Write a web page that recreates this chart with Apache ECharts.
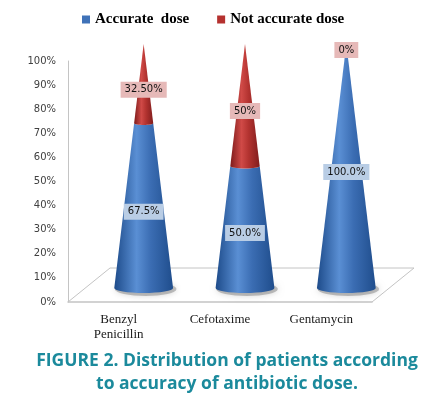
<!DOCTYPE html>
<html>
<head>
<meta charset="utf-8">
<script src="https://cdn.jsdelivr.net/npm/echarts@6/dist/echarts.min.js"></script>
<style>
html, body { margin: 0; padding: 0; background: #fff; }
#chart { width: 435px; height: 400px; }
</style>
</head>
<body>
<div id="chart"></div>
<script>
var categories = ['Benzyl\nPenicillin', 'Cefotaxime', 'Gentamycin'];
var accurate = [67.5, 50, 100];
var notAccurate = [32.5, 50, 0];
var accurateLabels = ['67.5%', '50.0%', '100.0%'];
var notAccurateLabels = ['32.50%', '50%', '0%'];

var chart = echarts.init(document.getElementById('chart'));

var CONE = 0.29;   // base half width, share of the band
var BASE_RY = 5;   // ellipse height of the base

function edge(cx, y, hw, ry, fromLeft) {
    var pts = [];
    for (var t = 0; t <= 16; t++) {
        var a = fromLeft ? Math.PI - Math.PI * t / 16 : Math.PI * t / 16;
        pts.push([cx + hw * Math.cos(a), y + ry * Math.sin(a)]);
    }
    return pts;
}

function coneItem(colors, labels, labelBg) {
    return function (params, api) {
        var cat = api.value(0), from = api.value(1), to = api.value(2);
        var half = api.size([1, 0])[0] * CONE;
        var p0 = api.coord([cat, from]);
        var p1 = api.coord([cat, to]);
        var cx = p0[0];
        var hw0 = half * (1 - from / 100), hw1 = half * (1 - to / 100);
        var children = [];
        if (from === 0) {
            // soft shadow under the base
            children.push({
                type: 'polygon',
                shape: { points: edge(cx + 2, p0[1] + 1, half * 1.05, 7, true).concat(edge(cx + 2, p0[1] + 1, half * 1.05, -7, false)) },
                style: { fill: 'rgba(90,90,90,0.35)', shadowBlur: 6, shadowColor: 'rgba(0,0,0,0.45)' },
                silent: true
            });
        }
        if (to > from) {
            var pts = edge(cx, p0[1], hw0, BASE_RY * hw0 / half, true)
                .concat(edge(cx, p1[1], hw1, BASE_RY * hw1 / half, false));
            children.push({
                type: 'polygon',
                shape: { points: pts },
                style: {
                    fill: new echarts.graphic.LinearGradient(0, 0, 1, 0, [
                        { offset: 0, color: colors[0] },
                        { offset: 0.38, color: colors[1] },
                        { offset: 0.62, color: colors[2] },
                        { offset: 1, color: colors[3] }
                    ])
                }
            });
        }
        var mid = api.coord([cat, (from + to) / 2]);
        children.push({
            type: 'text',
            z2: 100,
            style: {
                x: mid[0], y: mid[1] + 6,
                text: labels[params.dataIndex],
                fill: '#111',
                font: '10px "DejaVu Sans"',
                align: 'center', verticalAlign: 'middle',
                backgroundColor: labelBg,
                padding: [3, 4]
            }
        });
        return { type: 'group', children: children };
    };
}

var accData = accurate.map(function (v, i) { return [i, 0, v]; });
var notData = notAccurate.map(function (v, i) { return [i, accurate[i], accurate[i] + v]; });

chart.setOption({
    backgroundColor: '#fff',
    animation: false,
    graphic: [{
        type: 'text',
        x: 227,
        y: 350,
        style: {
            text: 'FIGURE 2. Distribution of patients according\nto accuracy of antibiotic dose.',
            font: 'bold 17.5px "Open Sans"',
            lineHeight: 23,
            fill: '#1b8a9c',
            align: 'center',
            verticalAlign: 'top'
        }
    }],
    legend: {
        data: ['Accurate  dose', 'Not accurate dose'],
        left: 77, top: 7,
        icon: 'rect', itemWidth: 8, itemHeight: 8, itemGap: 28,
        textStyle: { fontFamily: 'Liberation Serif', fontWeight: 'bold', fontSize: 15, color: '#000' }
    },
    grid: [
        { left: 68, right: 63, top: 61, bottom: 98 },
        { left: 93, right: 38, top: 44, bottom: 112 }
    ],
    xAxis: [{
        type: 'category', data: categories, gridIndex: 0,
        axisLine: { lineStyle: { color: '#c4c4c4', width: 1.5 } },
        axisTick: { show: false },
        axisLabel: { fontFamily: 'Liberation Serif', fontSize: 13, color: '#1a1a1a', lineHeight: 15, margin: 10 }
    }, {
        type: 'category', data: categories, gridIndex: 1, show: false
    }],
    yAxis: [{
        type: 'value', gridIndex: 0, min: 0, max: 100, interval: 10,
        axisLine: { show: true, lineStyle: { color: '#c4c4c4' } },
        axisTick: { show: false },
        splitLine: { show: false },
        axisLabel: { formatter: '{value}%', fontFamily: 'DejaVu Sans', fontSize: 10, color: '#404040', margin: 12 }
    }, {
        type: 'value', gridIndex: 1, min: 0, max: 100, show: false
    }],
    series: [{
        name: 'floor',
        type: 'custom',
        xAxisIndex: 0, yAxisIndex: 0,
        silent: true, z: 1,
        data: [[0, 0]],
        renderItem: function (params, api) {
            var c = params.coordSys;
            var b = c.y + c.height, dx = 42, dy = 34;
            return {
                type: 'polyline',
                shape: { points: [[c.x, b], [c.x + dx, b - dy], [c.x + c.width + dx, b - dy], [c.x + c.width, b]] },
                style: { stroke: '#c4c4c4', lineWidth: 1, fill: null }
            };
        }
    }, {
        name: 'Accurate  dose',
        type: 'custom',
        xAxisIndex: 1, yAxisIndex: 1, z: 3,
        itemStyle: { color: '#3f72b8' },
        encode: { x: 0, y: [1, 2] },
        data: accData,
        renderItem: coneItem(['#1d4b8a', '#5a8fd4', '#3b6db3', '#1f4d8c'], accurateLabels, '#b9cde5')
    }, {
        name: 'Not accurate dose',
        type: 'custom',
        xAxisIndex: 1, yAxisIndex: 1, z: 3,
        itemStyle: { color: '#b5312f' },
        encode: { x: 0, y: [1, 2] },
        data: notData,
        renderItem: coneItem(['#7e1b1b', '#d04a47', '#b33330', '#811d1d'], notAccurateLabels, '#e6b9b8')
    }]
});
</script>
</body>
</html>
